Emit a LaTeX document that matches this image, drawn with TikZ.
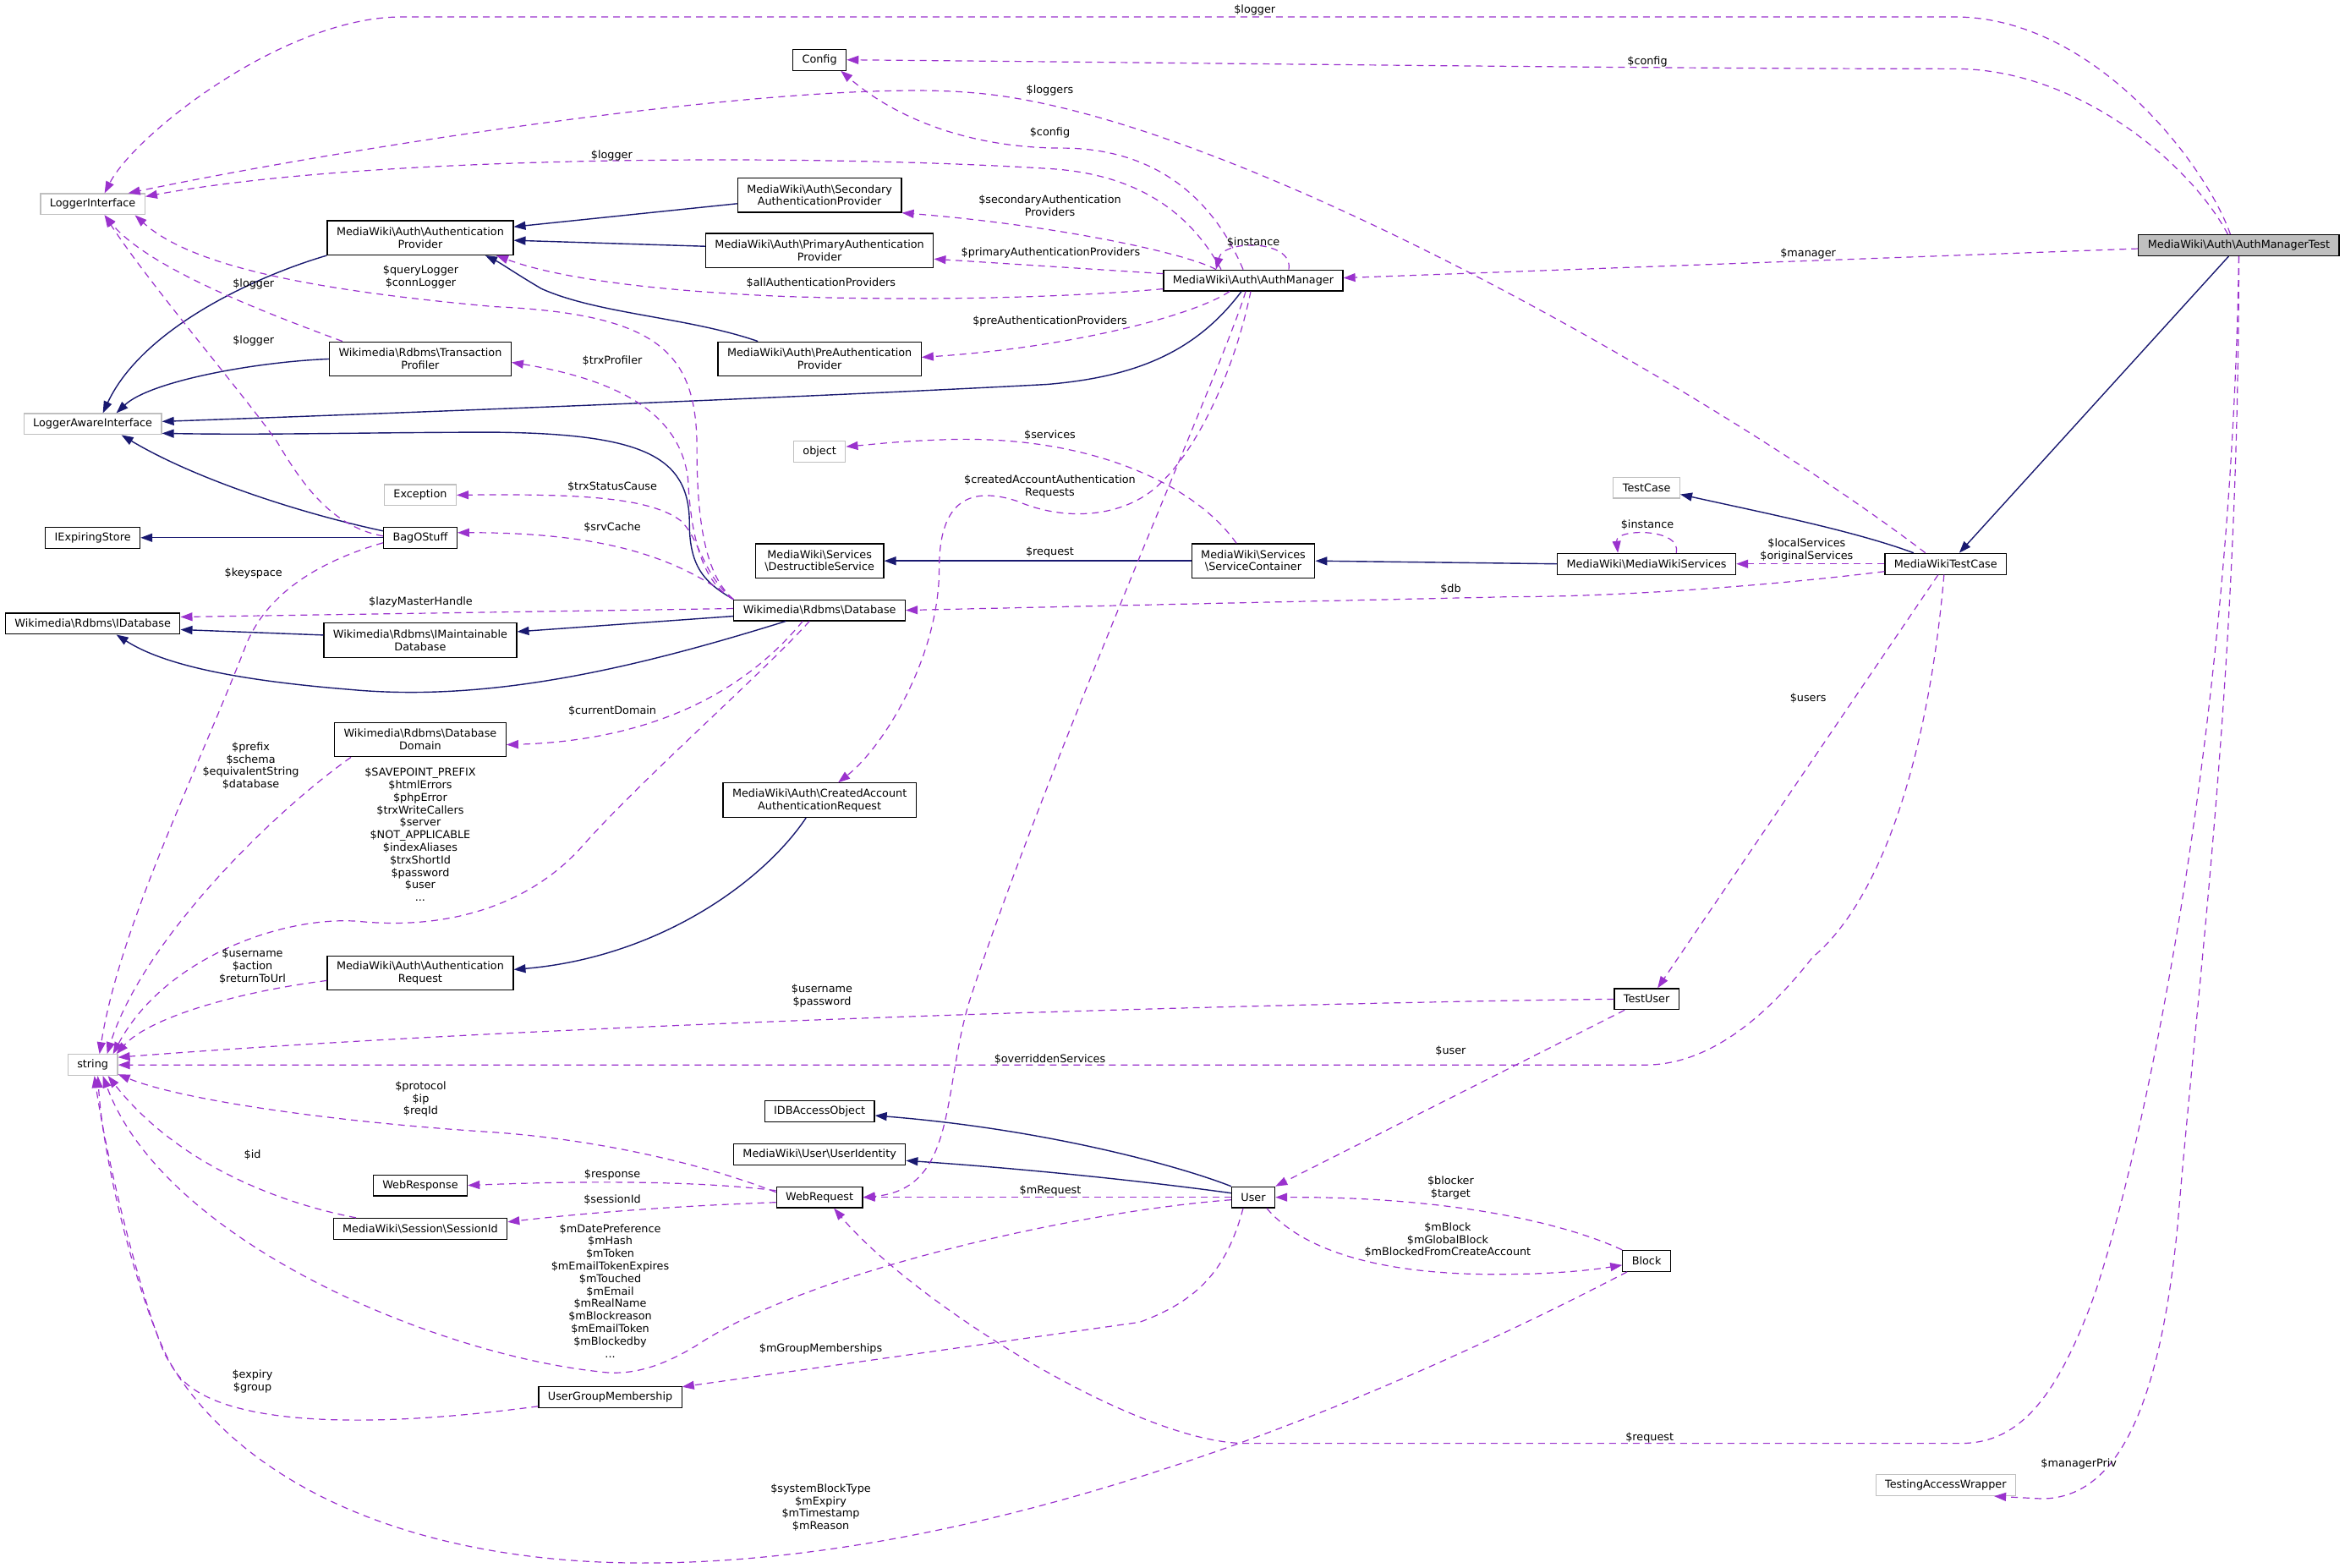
\documentclass[tikz,border=0pt]{standalone}
\usepackage{fontspec}
\setmainfont{DejaVu Sans}
\usetikzlibrary{arrows.meta}
\definecolor{dxnavy}{HTML}{191970}
\definecolor{dxorchid}{HTML}{9A32CD}
\definecolor{dxgray}{HTML}{BFBFBF}
\newcommand{\bsl}{\textbackslash}

\tikzset{
  cls/.style={draw=black, fill=white, line width=0.6pt, font=\fontsize{6.4}{7.4}\selectfont,
    inner xsep=5.5pt, inner ysep=1pt, minimum height=12.4pt, align=center},
  cls2/.style={cls, minimum height=20.3pt},
  ext/.style={cls, draw=dxgray},
  focus/.style={cls, fill=dxgray},
  lbl/.style={font=\fontsize{6.4}{7.4}\selectfont, align=center, inner sep=0pt},
  inh/.style={draw=dxnavy, line width=0.7pt, -{Triangle[length=7pt,width=5pt]}},
  dep/.style={draw=dxorchid, line width=0.6pt, dash pattern=on 4pt off 3pt, -{Triangle[length=7pt,width=5pt]}},
}

\begin{document}
\begin{tikzpicture}[x=0.8844pt, y=-0.8844pt]
  \useasboundingbox (0,0) rectangle (1568,1048);

  % classes
  \node[focus] (amt) at (1497,164) {MediaWiki\bsl{}Auth\bsl{}AuthManagerTest};
  \node[ext] (li) at (62,136.5) {LoggerInterface};
  \node[cls] (cfg) at (548,40) {Config};
  \node[cls2] (sap) at (548,130.5) {MediaWiki\bsl{}Auth\bsl{}Secondary\\AuthenticationProvider};
  \node[cls2] (ap) at (281,159) {MediaWiki\bsl{}Auth\bsl{}Authentication\\Provider};
  \node[cls2] (pap) at (548,167.5) {MediaWiki\bsl{}Auth\bsl{}PrimaryAuthentication\\Provider};
  \node[cls] (am) at (838,187.5) {MediaWiki\bsl{}Auth\bsl{}AuthManager};
  \node[cls2] (prap) at (548,240) {MediaWiki\bsl{}Auth\bsl{}PreAuthentication\\Provider};
  \node[cls2] (tp) at (281,240) {Wikimedia\bsl{}Rdbms\bsl{}Transaction\\Profiler};
  \node[ext] (lai) at (62,283.5) {LoggerAwareInterface};
  \node[ext] (obj) at (548,302) {object};
  \node[ext] (exc) at (281,331) {Exception};
  \node[cls] (bag) at (281,359.5) {BagOStuff};
  \node[cls] (ies) at (62,359.5) {IExpiringStore};
  \node[cls2] (ds) at (548,375) {MediaWiki\bsl{}Services\\\bsl{}DestructibleService};
  \node[cls2] (sc) at (838,375) {MediaWiki\bsl{}Services\\\bsl{}ServiceContainer};
  \node[cls] (mws) at (1101,377) {MediaWiki\bsl{}MediaWikiServices};
  \node[ext] (tc) at (1101,326) {TestCase};
  \node[cls] (mwtc) at (1301,377) {MediaWikiTestCase};
  \node[cls] (db) at (548,408) {Wikimedia\bsl{}Rdbms\bsl{}Database};
  \node[cls] (idb) at (62,417) {Wikimedia\bsl{}Rdbms\bsl{}IDatabase};
  \node[cls2] (imdb) at (281,428) {Wikimedia\bsl{}Rdbms\bsl{}IMaintainable\\Database};
  \node[cls2] (dd) at (281,494.5) {Wikimedia\bsl{}Rdbms\bsl{}Database\\Domain};
  \node[cls2] (caar) at (548,535) {MediaWiki\bsl{}Auth\bsl{}CreatedAccount\\AuthenticationRequest};
  \node[cls2] (ar) at (281,650.5) {MediaWiki\bsl{}Auth\bsl{}Authentication\\Request};
  \node[cls] (tu) at (1101,668) {TestUser};
  \node[ext] (str) at (62,712) {string};
  \node[cls] (idbao) at (548,743) {IDBAccessObject};
  \node[cls] (uid) at (548,772) {MediaWiki\bsl{}User\bsl{}UserIdentity};
  \node[cls] (wreq) at (548,800.5) {WebRequest};
  \node[cls] (user) at (838,800.5) {User};
  \node[cls] (wresp) at (281,792.5) {WebResponse};
  \node[cls] (sid) at (281,821.5) {MediaWiki\bsl{}Session\bsl{}SessionId};
  \node[cls] (blk) at (1101,843) {Block};
  \node[cls] (ugm) at (408,934) {UserGroupMembership};
  \node[ext] (taw) at (1301,993) {TestingAccessWrapper};

  % inheritance
  \draw[inh] ([xshift=-6pt]amt.south) -- ([xshift=8pt]mwtc.north);
  \draw[inh] ([xshift=-19pt]mwtc.north) .. controls (1240,355) and (1180,343) .. ([yshift=-4pt]tc.east);
  \draw[inh] (mws.west) -- (sc.east);
  \draw[inh] (sc.west) -- (ds.east);
  \draw[inh] ([xshift=-7pt]am.south) .. controls (800,235) and (760,252) .. (700,257)
    .. controls (550,265) and (300,275) .. ([yshift=1.5pt]lai.east);
  \draw[inh] (db.north west) .. controls (472,390) and (461,380) .. (461,350)
    .. controls (461,305) and (430,290) .. (330,289) .. controls (250,289) and (180,291) .. ([yshift=-5.5pt]lai.east);
  \draw[inh] (tp.west) .. controls (170,242) and (100,255) .. ([xshift=14pt]lai.north);
  \draw[inh] (ap.south west) .. controls (170,185) and (95,220) .. ([xshift=6pt]lai.north);
  \draw[inh] ([yshift=4pt]bag.west) .. controls (200,343) and (130,320) .. ([xshift=17pt]lai.south);
  \draw[inh] (bag.west) -- (ies.east);
  \draw[inh] ([yshift=-5pt]sap.west) -- ([yshift=6.5pt]ap.east);
  \draw[inh] ([yshift=2.5pt]pap.west) -- ([yshift=-1.5pt]ap.east);
  \draw[inh] ([xshift=-36.5pt]prap.north) .. controls (460,212) and (400,210) .. (362,193)
    .. controls (345,183) and (335,176) .. ([xshift=38.5pt]ap.south);
  \draw[inh] ([yshift=-3.5pt]db.west) -- ([yshift=5pt]imdb.east);
  \draw[inh] ([yshift=3pt]imdb.west) -- ([yshift=-3.5pt]idb.east);
  \draw[inh] ([xshift=-20pt]db.south) .. controls (430,445) and (330,470) .. (234,461)
    .. controls (160,455) and (110,445) .. ([xshift=14pt]idb.south);
  \draw[inh] ([xshift=-8pt]caar.south) .. controls (510,590) and (440,640) .. ([yshift=2pt]ar.east);
  \draw[inh] (user.north west) .. controls (790,780) and (700,755) .. ([yshift=-2.5pt]idbao.east);
  \draw[inh] ([yshift=2.5pt]user.west) .. controls (760,789) and (680,781) .. ([yshift=-3.5pt]uid.east);

  % members
  \draw[dep] ([xshift=-5pt]amt.north) .. controls (1475,110) and (1400,11.3) .. (1307,11.3) -- (268.6,11.3)
    .. controls (190,11.3) and (90,90) .. ([xshift=7pt]li.north);
  \draw[dep] ([xshift=-6.5pt]amt.north) .. controls (1465,110) and (1390,46) .. (1307,46)
    .. controls (1100,46) and (800,42) .. (cfg.east);
  \draw[dep] ([yshift=-2pt]amt.west) -- ([yshift=1.5pt]am.east);
  \draw[dep] (amt.south) .. controls (1492,500) and (1430,780) .. (1400,867)
    .. controls (1375,935) and (1350,965) .. (1311,965) -- (833,965)
    .. controls (760,965) and (610,870) .. ([xshift=8.5pt]wreq.south);
  \draw[dep] (amt.south) .. controls (1497,450) and (1470,650) .. (1456,820)
    .. controls (1445,930) and (1420,1002) .. (1365,1002) -- ([xshift=-13pt]taw.south east);
  \draw[dep] ([xshift=-12pt]mwtc.north) .. controls (1150,265) and (820,75) .. (650,62)
    .. controls (540,52) and (250,95) .. ([xshift=21pt]li.north);
  \draw[dep] ([xshift=-19pt]am.north) .. controls (800,150) and (770,118) .. (705,113)
    .. controls (550,103) and (250,103) .. ([yshift=4.5pt]li.east);
  \draw[dep] ([xshift=-6pt]am.north) .. controls (810,130) and (770,99) .. (710,99)
    .. controls (650,99) and (600,80) .. ([xshift=-3.5pt]cfg.south east);
  \draw[dep] ([xshift=21pt]am.north) .. controls (865,160) and (818,160) .. ([xshift=-22pt]am.north);
  \draw[dep] ([xshift=-22pt]am.north) .. controls (790,168) and (700,150) .. (sap.south east);
  \draw[dep] ([yshift=4pt]am.west) -- ([yshift=-5pt]pap.east);
  \draw[dep] ([yshift=-5pt]am.west) .. controls (700,200) and (600,201) .. (520,198)
    .. controls (430,194) and (370,185) .. ([xshift=45pt]ap.south);
  \draw[dep] ([xshift=-14pt]am.south) .. controls (800,210) and (720,232) .. ([yshift=1pt]prap.east);
  \draw[dep] ([xshift=-4.5pt]am.south) .. controls (820,240) and (700,510) .. (648,670)
    .. controls (630,730) and (640,795) .. (wreq.east);
  \draw[dep] ([xshift=-1.5pt]am.south) .. controls (825,250) and (800,300) .. (777,322)
    .. controls (755,345) and (715,350) .. (680,335) .. controls (640,322) and (628,345) .. (628,380)
    .. controls (628,440) and (590,500) .. ([xshift=11pt]caar.north);
  \draw[dep] (mwtc.west) -- (mws.east);
  \draw[dep] ([xshift=17.5pt]mws.north) .. controls (1125,353) and (1080,353) .. ([xshift=-17pt]mws.north);
  \draw[dep] ([yshift=-4.5pt]mwtc.west) .. controls (1180,392) and (1080,399) .. (1010,399) -- (db.east);
  \draw[dep] ([xshift=-4.5pt]mwtc.south) -- ([xshift=6.5pt]tu.north);
  \draw[dep] ([xshift=-1pt]mwtc.south) .. controls (1290,500) and (1260,600) .. (1212,640)
    .. controls (1190,668) and (1150,712) .. (1100,712) -- (str.east);
  \draw[dep] (tu.west) .. controls (900,670) and (400,682) .. ([yshift=4.5pt]str.east);
  \draw[dep] ([xshift=-13pt]tu.south) -- (user.north east);
  \draw[dep] (user.west) -- (wreq.east);
  \draw[dep] ([xshift=8pt]user.south) .. controls (870,835) and (920,852) .. (1000,852)
    .. controls (1040,852) and (1065,849) .. ([yshift=-2.5pt]blk.west);
  \draw[dep] (blk.north west) .. controls (1040,815) and (960,800) .. (user.east);
  \draw[dep] ([xshift=-6pt]user.south) .. controls (820,850) and (800,870) .. (762,884) -- ([yshift=6pt]ugm.east);
  \draw[dep] ([yshift=-1.5pt]user.west) .. controls (720,810) and (540,850) .. (465,900)
    .. controls (440,915) and (420,920) .. (400,917) .. controls (290,905) and (110,830) .. ([xshift=6pt]str.south);
  \draw[dep] ([yshift=3pt]wreq.west) .. controls (470,778) and (400,762) .. (330,757)
    .. controls (220,750) and (120,735) .. ([yshift=-5.5pt]str.east);
  \draw[dep] ([yshift=4pt]wreq.west) .. controls (470,790) and (400,789) .. (wresp.east);
  \draw[dep] ([yshift=-3pt]wreq.west) .. controls (460,806) and (400,810) .. ([yshift=4pt]sid.east);
  \draw[dep] ([xshift=-38pt]sid.north) .. controls (190,805) and (120,780) .. ([xshift=9pt]str.south);
  \draw[dep] ([yshift=-5.5pt]ugm.west) .. controls (250,955) and (145,955) .. (118,918)
    .. controls (100,893) and (70,790) .. ([xshift=3pt]str.south);
  \draw[dep] ([xshift=-11.5pt]blk.south) .. controls (988,902) and (700,1045) .. (430,1045)
    .. controls (280,1045) and (160,995) .. (110,905) .. controls (95,870) and (72,780) .. ([xshift=1pt]str.south);
  \draw[dep] ([yshift=-3pt]bag.west) .. controls (215,375) and (180,395) .. (165,430)
    .. controls (130,520) and (80,620) .. ([xshift=4pt]str.north);
  \draw[dep] ([xshift=-41pt]dd.south) .. controls (180,545) and (95,630) .. ([xshift=8.5pt]str.north);
  \draw[dep] ([xshift=-6pt]db.south) .. controls (510,450) and (430,520) .. (390,565)
    .. controls (355,605) and (300,622) .. (240,616) .. controls (190,612) and (110,640) .. ([xshift=12pt]str.north);
  \draw[dep] ([xshift=-10pt]db.south) .. controls (500,460) and (440,495) .. ([yshift=-3pt]dd.east);
  \draw[dep] ([yshift=-4.5pt]ar.west) .. controls (160,663) and (100,680) .. ([xshift=14pt]str.north);
  \draw[dep] ([xshift=-46pt]tp.north) .. controls (180,210) and (100,180) .. ([xshift=7pt]li.south);
  \draw[dep] ([yshift=1pt]bag.west) .. controls (220,352) and (200,320) .. (185,295)
    .. controls (160,260) and (100,190) .. ([xshift=7pt]li.south);
  \draw[dep] (db.north west) .. controls (472,385) and (466,350) .. (466,300)
    .. controls (466,235) and (440,210) .. (330,205) .. controls (220,195) and (130,180) .. ([xshift=25pt]li.south);
  \draw[dep] (db.north west) .. controls (470,390) and (462,360) .. (460,320)
    .. controls (455,280) and (420,255) .. ([yshift=-2pt]tp.east);
  \draw[dep] (db.north west) .. controls (470,385) and (468,360) .. (455,348)
    .. controls (435,333) and (390,330) .. (exc.east);
  \draw[dep] (db.north west) .. controls (455,375) and (410,356) .. ([yshift=3pt]bag.east);
  \draw[dep] ([yshift=1pt]db.west) -- ([yshift=4pt]idb.east);
  \draw[dep] ([xshift=-10pt]sc.north) .. controls (800,325) and (730,290) .. (630,294)
    .. controls (600,295) and (585,297) .. ([yshift=3pt]obj.east);

  % member labels
  \node[lbl] (l01) at (839,6.6) {\$logger};
  \node[lbl] (l02) at (1101.5,41.4) {\$config};
  \node[lbl] (l03) at (702,60.6) {\$loggers};
  \node[lbl] (l04) at (702,89) {\$config};
  \node[lbl] (l05) at (409,104) {\$logger};
  \node[lbl] (l06) at (702,137.4) {\$secondaryAuthentication\\Providers};
  \node[lbl] (l07) at (838,162) {\$instance};
  \node[lbl] (l08) at (702.5,169) {\$primaryAuthenticationProviders};
  \node[lbl] (l09) at (1209,169.6) {\$manager};
  \node[lbl] (l10) at (281.3,185) {\$queryLogger\\\$connLogger};
  \node[lbl] (l11) at (549,189) {\$allAuthenticationProviders};
  \node[lbl] (l12) at (169.5,189.8) {\$logger};
  \node[lbl] (l13) at (702,215) {\$preAuthenticationProviders};
  \node[lbl] (l14) at (169.5,228) {\$logger};
  \node[lbl] (l15) at (409.4,241.3) {\$trxProfiler};
  \node[lbl] (l16) at (702,291) {\$services};
  \node[lbl] (l17) at (702,325.3) {\$createdAccountAuthentication\\Requests};
  \node[lbl] (l18) at (409.4,325.5) {\$trxStatusCause};
  \node[lbl] (l19) at (1101.5,350.7) {\$instance};
  \node[lbl] (l20) at (409.4,352.6) {\$srvCache};
  \node[lbl] (l21) at (1208,368) {\$localServices\\\$originalServices};
  \node[lbl] (l22) at (702,369) {\$request};
  \node[lbl] (l23) at (169.5,383.5) {\$keyspace};
  \node[lbl] (l24) at (970,393.6) {\$db};
  \node[lbl] (l25) at (281.3,402.3) {\$lazyMasterHandle};
  \node[lbl] (l26) at (1209,466.6) {\$users};
  \node[lbl] (l27) at (409.4,475.4) {\$currentDomain};
  \node[lbl] (l28) at (167.7,512) {\$prefix\\\$schema\\\$equivalentString\\\$database};
  \node[lbl] (l29) at (281,558) {\$SAVEPOINT\_PREFIX\\\$htmlErrors\\\$phpError\\\$trxWriteCallers\\\$server\\\$NOT\_APPLICABLE\\\$indexAliases\\\$trxShortId\\\$password\\\$user\\...};
  \node[lbl] (l30) at (168.8,645.9) {\$username\\\$action\\\$returnToUrl};
  \node[lbl] (l31) at (549.6,666) {\$username\\\$password};
  \node[lbl] (l32) at (970,702.8) {\$user};
  \node[lbl] (l33) at (702,708) {\$overriddenServices};
  \node[lbl] (l34) at (281.3,734.8) {\$protocol\\\$ip\\\$reqId};
  \node[lbl] (l35) at (168.8,772.4) {\$id};
  \node[lbl] (l36) at (409.4,785.2) {\$response};
  \node[lbl] (l37) at (970,794) {\$blocker\\\$target};
  \node[lbl] (l38) at (702.3,796) {\$mRequest};
  \node[lbl] (l39) at (409.4,802.4) {\$sessionId};
  \node[lbl] (l40) at (968,829) {\$mBlock\\\$mGlobalBlock\\\$mBlockedFromCreateAccount};
  \node[lbl] (l41) at (408,863) {\$mDatePreference\\\$mHash\\\$mToken\\\$mEmailTokenExpires\\\$mTouched\\\$mEmail\\\$mRealName\\\$mBlockreason\\\$mEmailToken\\\$mBlockedby\\...};
  \node[lbl] (l42) at (548.8,902) {\$mGroupMemberships};
  \node[lbl] (l43) at (168.8,923.8) {\$expiry\\\$group};
  \node[lbl] (l44) at (1103,961) {\$request};
  \node[lbl] (l45) at (1390,979) {\$managerPriv};
  \node[lbl] (l46) at (548.8,1008) {\$systemBlockType\\\$mExpiry\\\$mTimestamp\\\$mReason};
\end{tikzpicture}
\end{document}
